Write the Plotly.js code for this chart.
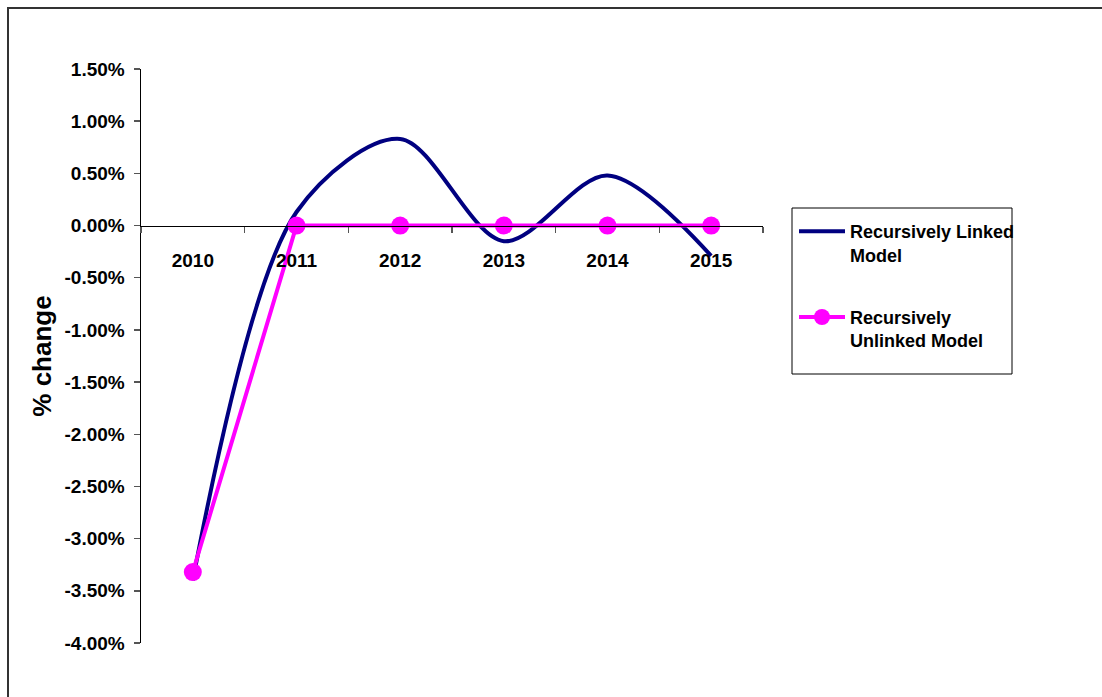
<!DOCTYPE html>
<html>
<head>
<meta charset="utf-8">
<script src="https://cdn.plot.ly/plotly-3.0.1.min.js"></script>
<style>
  html, body { margin: 0; padding: 0; background: #fff; }
  #wrap { position: relative; width: 1102px; height: 697px; overflow: hidden; }
  #chart { width: 1102px; height: 697px; }
  #frame { position: absolute; left: 7px; top: 7px; width: 1200px; height: 800px;
           border-top: 2px solid #333; border-left: 2px solid #333; pointer-events: none; }
</style>
</head>
<body>
<div id="wrap">
  <div id="chart"></div>
  <div id="frame"></div>
</div>
<script>
const years = ['2010', '2011', '2012', '2013', '2014', '2015'];
const linkedModel = [-0.0340, 0.0013, 0.0083, -0.0015, 0.0048, -0.0029];
const unlinkedModel = [-0.0332, 0, 0, 0, 0, 0];
const yTickVals = [0.015, 0.01, 0.005, 0, -0.005, -0.01, -0.015, -0.02, -0.025, -0.03, -0.035, -0.04];
const yTickText = yTickVals.map(v => (v * 100).toFixed(2) + '%');
const yMin = -0.04, yMax = 0.015;

const font = 'Liberation Sans, Arial, sans-serif';

const traces = [
  {
    x: years, y: linkedModel, type: 'scatter', mode: 'lines',
    name: 'Recursively Linked<br>Model', legendgroup: 'a',
    line: { color: '#000080', width: 4, shape: 'spline', smoothing: 0.9 }
  },
  {
    x: years, y: unlinkedModel, type: 'scatter', mode: 'lines+markers',
    name: 'Recursively<br>Unlinked Model', legendgroup: 'b',
    line: { color: '#FF00FF', width: 4 },
    marker: { color: '#FF00FF', size: 18, symbol: 'circle' }
  }
];

// legend box frame (pixel box converted to paper fractions of the plot area)
const plotL = 141, plotW = 622, plotT = 69, plotH = 574;
const px2x = p => (p - plotL) / plotW;
const px2y = p => 1 - (p - plotT) / plotH;

const layout = {
  width: 1102, height: 697,
  margin: { l: 141, r: 339, t: 69, b: 54 },
  paper_bgcolor: '#ffffff', plot_bgcolor: '#ffffff',
  font: { family: font, color: '#000', size: 18 },
  showlegend: true,
  hovermode: false,
  xaxis: {
    type: 'category', range: [-0.5, 5.5],
    anchor: 'free', position: (0 - yMin) / (yMax - yMin),
    showline: true, linecolor: '#000', linewidth: 1.5,
    ticks: 'outside', tickson: 'boundaries', ticklen: 6, tickcolor: '#555', tickwidth: 1.5,
    showgrid: false, zeroline: false,
    tickfont: { family: font, size: 19, color: '#000', weight: 'bold' },
    ticklabelstandoff: 17
  },
  yaxis: {
    range: [yMin, yMax], tickvals: yTickVals, ticktext: yTickText,
    showline: true, linecolor: '#000', linewidth: 1.5,
    ticks: 'outside', ticklen: 6, tickcolor: '#555', tickwidth: 1.5,
    showgrid: false, zeroline: false,
    tickfont: { family: font, size: 19, color: '#000', weight: 'bold' },
    ticklabelstandoff: 5,
    title: { text: '% change', font: { family: font, size: 26, color: '#000', weight: 'bold' }, standoff: 5 }
  },
  legend: {
    x: px2x(794), y: px2y(213), xanchor: 'left', yanchor: 'top',
    bgcolor: 'rgba(0,0,0,0)', borderwidth: 0,
    font: { family: font, size: 18, color: '#000', weight: 'bold' },
    traceorder: 'grouped', tracegroupgap: 36, valign: 'top',
    itemwidth: 46
  },
  shapes: [{
    type: 'rect', xref: 'paper', yref: 'paper',
    x0: px2x(792), x1: px2x(1012), y0: px2y(208), y1: px2y(374),
    line: { color: '#000', width: 1 }, fillcolor: 'rgba(0,0,0,0)', layer: 'below'
  }]
};

Plotly.newPlot('chart', traces, layout, { staticPlot: true, displayModeBar: false });
</script>
</body>
</html>
